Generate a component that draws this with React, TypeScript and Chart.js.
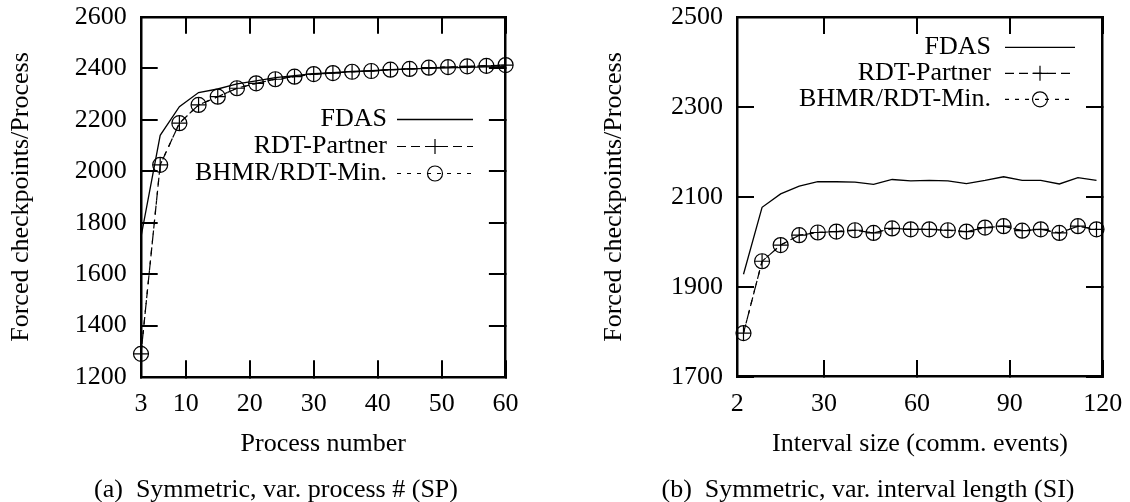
import React, { useEffect, useRef } from 'react';
import { Chart, registerables } from 'chart.js';

Chart.register(...registerables);

const FONT = '"Liberation Serif", "Times New Roman", serif';

// ---- Panel (a): Symmetric, var. process # (SP)
const processNumbers = [3, 6, 9, 12, 15, 18, 21, 24, 27, 30, 33, 36, 39, 42, 45, 48, 51, 54, 57, 60];
const fdasSP = [1745, 2140, 2251, 2306, 2320, 2340, 2352, 2364, 2372, 2380, 2384, 2388, 2391, 2395, 2398, 2400, 2402, 2404, 2406, 2407];
const rdtPartnerSP = [1290, 2025, 2187, 2258, 2290, 2323, 2342, 2358, 2368, 2378, 2382, 2387, 2390, 2395, 2398, 2403, 2405, 2408, 2410, 2413];
const bhmrSP = [1290, 2025, 2187, 2258, 2290, 2323, 2342, 2358, 2368, 2378, 2382, 2387, 2390, 2395, 2398, 2403, 2405, 2408, 2410, 2413];
const processTicks = [3, 10, 20, 30, 40, 50, 60];

// ---- Panel (b): Symmetric, var. interval length (SI)
const intervalSizes = [4, 10, 16, 22, 28, 34, 40, 46, 52, 58, 64, 70, 76, 82, 88, 94, 100, 106, 112, 118];
const fdasSI = [1928, 2077, 2107, 2124, 2134, 2134, 2133, 2128, 2139, 2136, 2137, 2136, 2130, 2137, 2145, 2137, 2137, 2129, 2143, 2137];
const rdtPartnerSI = [1797, 1957, 1993, 2015, 2021, 2023, 2026, 2020, 2030, 2028, 2028, 2026, 2023, 2032, 2035, 2025, 2028, 2020, 2035, 2028];
const bhmrSI = [1797, 1957, 1993, 2015, 2021, 2023, 2026, 2020, 2030, 2028, 2028, 2026, 2023, 2032, 2035, 2025, 2028, 2020, 2035, 2028];
const intervalTicks = [2, 30, 60, 90, 120];

const seriesLabels = ['FDAS', 'RDT-Partner', 'BHMR/RDT-Min.'];
const yTitle = 'Forced checkpoints/Process';

const insideLegend = {
  id: 'insideLegend',
  afterDraw(chart: any, _args: any, opts: any) {
    const { ctx, chartArea } = chart;
    const lineEnd = chartArea.right - opts.endInset;
    const lineStart = lineEnd - opts.sampleLength;
    const textRight = lineStart - opts.gap;
    ctx.save();
    ctx.font = `26px ${FONT}`;
    ctx.fillStyle = '#000';
    ctx.strokeStyle = '#000';
    ctx.textAlign = 'right';
    ctx.textBaseline = 'middle';
    chart.data.datasets.forEach((ds: any, i: number) => {
      const y = chartArea.top + opts.firstRow + i * opts.rowGap;
      ctx.fillText(ds.label, textRight, y);
      ctx.lineWidth = ds.borderWidth;
      ctx.setLineDash(ds.borderDash || []);
      ctx.beginPath();
      ctx.moveTo(lineStart, y);
      ctx.lineTo(lineEnd, y);
      ctx.stroke();
      ctx.setLineDash([]);
      const r = ds.pointRadius || 0;
      if (r > 0) {
        const cx = (lineStart + lineEnd) / 2;
        ctx.lineWidth = ds.pointBorderWidth;
        ctx.beginPath();
        if (ds.pointStyle === 'cross') {
          ctx.moveTo(cx - r, y);
          ctx.lineTo(cx + r, y);
          ctx.moveTo(cx, y - r);
          ctx.lineTo(cx, y + r);
        } else {
          ctx.arc(cx, y, r, 0, Math.PI * 2);
        }
        ctx.stroke();
      }
    });
    ctx.restore();
  },
};

type PanelSpec = {
  xs: number[];
  fdas: number[];
  rdt: number[];
  bhmr: number[];
  xMin: number;
  xMax: number;
  xTicks: number[];
  yMin: number;
  yMax: number;
  xTitle: string;
  padding: { left: number; right: number; top: number; bottom: number };
  yWidth: number;
  legend: { endInset: number; sampleLength: number; gap: number; firstRow: number; rowGap: number };
};

function zeroPad(s: any) {
  s.paddingLeft = 0;
  s.paddingRight = 0;
  s.paddingTop = 0;
  s.paddingBottom = 0;
}

function makeConfig(p: PanelSpec): any {
  const pts = (ys: number[]) => p.xs.map((x, i) => ({ x, y: ys[i] }));
  const tickFont = { family: FONT, size: 26, lineHeight: 1 };
  const grid = { drawOnChartArea: false, drawTicks: true, tickLength: -16.7, color: '#000', lineWidth: 2 };
  const border = { display: true, color: '#000', width: 2.5 };
  const plain = (v: any) => String(v);
  const setXTicks = (s: any) => {
    s.ticks = p.xTicks.map((v) => ({ value: v }));
  };
  return {
    type: 'line',
    data: {
      datasets: [
        {
          label: seriesLabels[0],
          data: pts(p.fdas),
          borderColor: '#000',
          borderWidth: 1.3,
          borderDash: [],
          pointRadius: 0,
          tension: 0,
          clip: false,
        },
        {
          label: seriesLabels[1],
          data: pts(p.rdt),
          borderColor: '#000',
          borderWidth: 1.2,
          borderDash: [9, 5],
          pointStyle: 'cross',
          pointRadius: 7.5,
          pointBorderWidth: 1.2,
          pointBorderColor: '#000',
          pointBackgroundColor: 'transparent',
          tension: 0,
          clip: false,
        },
        {
          label: seriesLabels[2],
          data: pts(p.bhmr),
          borderColor: '#000',
          borderWidth: 1.2,
          borderDash: [4, 6],
          pointStyle: 'circle',
          pointRadius: 7.5,
          pointBorderWidth: 1.2,
          pointBorderColor: '#000',
          pointBackgroundColor: 'transparent',
          tension: 0,
          clip: false,
        },
      ],
    },
    options: {
      responsive: false,
      animation: false,
      events: [],
      layout: { padding: p.padding },
      plugins: {
        legend: { display: false },
        tooltip: { enabled: false },
        insideLegend: p.legend,
      },
      scales: {
        x: {
          type: 'linear',
          position: 'bottom',
          min: p.xMin,
          max: p.xMax,
          afterBuildTicks: setXTicks,
          ticks: { font: tickFont, color: '#000', padding: 31, maxRotation: 0, minRotation: 0, autoSkip: false, callback: plain },
          grid,
          border,
          title: { display: true, text: p.xTitle, color: '#000', font: tickFont, padding: { top: 0, bottom: 18.5 } },
          afterFit: (s: any) => {
            s.height = 99;
            zeroPad(s);
          },
        },
        x2: {
          type: 'linear',
          position: 'top',
          min: p.xMin,
          max: p.xMax,
          afterBuildTicks: setXTicks,
          ticks: { display: false },
          grid,
          border,
          afterFit: (s: any) => {
            s.height = 0;
            zeroPad(s);
          },
        },
        y: {
          type: 'linear',
          position: 'left',
          min: p.yMin,
          max: p.yMax,
          ticks: { stepSize: 200, font: tickFont, color: '#000', padding: 31, callback: plain },
          grid,
          border,
          title: { display: true, text: yTitle, color: '#000', font: tickFont, padding: { top: 8.6, bottom: 0 } },
          afterFit: (s: any) => {
            s.width = p.yWidth;
            zeroPad(s);
          },
        },
        y2: {
          type: 'linear',
          position: 'right',
          min: p.yMin,
          max: p.yMax,
          ticks: { display: false, stepSize: 200 },
          grid,
          border,
          afterFit: (s: any) => {
            s.width = 0;
            zeroPad(s);
          },
        },
      },
    },
    plugins: [insideLegend],
  };
}

const panelA: PanelSpec = {
  xs: processNumbers,
  fdas: fdasSP,
  rdt: rdtPartnerSP,
  bhmr: bhmrSP,
  xMin: 3,
  xMax: 60,
  xTicks: processTicks,
  yMin: 1200,
  yMax: 2600,
  xTitle: 'Process number',
  padding: { left: 0, right: 59.4, top: 17, bottom: 26 },
  yWidth: 141,
  legend: { endInset: 32.6, sampleLength: 76, gap: 10, firstRow: 102.5, rowGap: 27 },
};

const panelB: PanelSpec = {
  xs: intervalSizes,
  fdas: fdasSI,
  rdt: rdtPartnerSI,
  bhmr: bhmrSI,
  xMin: 2,
  xMax: 120,
  xTicks: intervalTicks,
  yMin: 1700,
  yMax: 2500,
  xTitle: 'Interval size (comm. events)',
  padding: { left: 27.4, right: 27.3, top: 17.3, bottom: 26.3 },
  yWidth: 144.9,
  legend: { endInset: 27.7, sampleLength: 70, gap: 14, firstRow: 30, rowGap: 26 },
};

function Panel({ spec, left }: { spec: PanelSpec; left: number }) {
  const ref = useRef<HTMLCanvasElement | null>(null);
  useEffect(() => {
    if (!ref.current) return;
    const chart = new Chart(ref.current, makeConfig(spec));
    return () => chart.destroy();
  }, [spec]);
  return (
    <canvas
      ref={ref}
      width={565}
      height={502}
      style={{ position: 'absolute', left, top: 0, width: 565, height: 502 }}
    />
  );
}

const captionStyle = (center: number): React.CSSProperties => ({
  position: 'absolute',
  left: center - 300,
  width: 600,
  top: 476,
  textAlign: 'center',
  fontFamily: FONT,
  fontSize: 26,
  lineHeight: '26px',
  whiteSpace: 'pre',
  color: '#000',
});

export default function App() {
  return (
    <div style={{ position: 'absolute', left: 0, top: 0, width: 1130, height: 502, background: '#fff', overflow: 'hidden' }}>
      <Panel spec={panelA} left={0} />
      <Panel spec={panelB} left={565} />
      <div style={captionStyle(276)}>{'(a)  Symmetric, var. process # (SP)'}</div>
      <div style={captionStyle(868)}>{'(b)  Symmetric, var. interval length (SI)'}</div>
    </div>
  );
}
